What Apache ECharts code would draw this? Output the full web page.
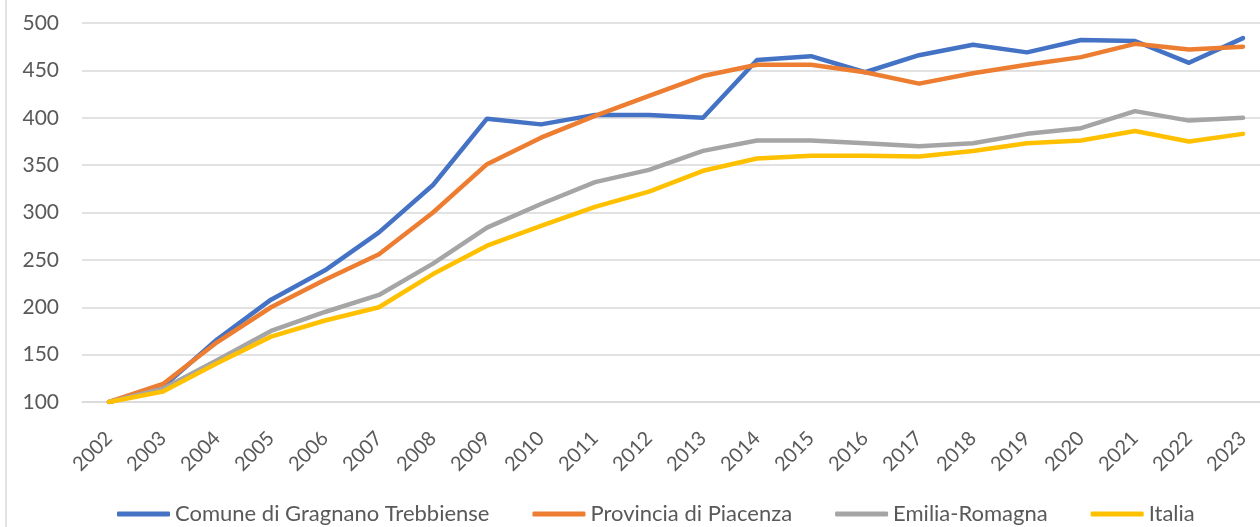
<!DOCTYPE html>
<html>
<head>
<meta charset="utf-8">
<script src="https://cdn.jsdelivr.net/npm/echarts@6/dist/echarts.min.js"></script>
<style>
  html, body { margin: 0; padding: 0; background: #fff; }
  #chart { width: 1260px; height: 527px; }
</style>
</head>
<body>
<div id="chart"></div>
<script>
const years = ["2002", "2003", "2004", "2005", "2006", "2007", "2008", "2009", "2010", "2011", "2012",
  "2013", "2014", "2015", "2016", "2017", "2018", "2019", "2020", "2021", "2022", "2023"];
const comune = [100, 116, 166, 208, 239, 279, 329, 399, 393, 403, 403, 400, 461, 465, 448, 466, 477, 469, 482, 481, 458, 484];
const provincia = [100, 119, 163, 200, 229, 256, 300, 351, 379, 402, 423, 444, 456, 456, 448, 436, 447, 456, 464, 478, 472, 475];
const emilia = [100, 114, 144, 175, 195, 213, 246, 284, 309, 332, 345, 365, 376, 376, 373, 370, 373, 383, 389, 407, 397, 400];
const italia = [100, 111, 141, 169, 186, 200, 235, 265, 286, 306, 322, 344, 357, 360, 360, 359, 365, 373, 376, 386, 375, 383];
const names = ["Comune di Gragnano Trebbiense", "Provincia di Piacenza", "Emilia-Romagna", "Italia"];
const colors = ["#4472C4", "#ED7D31", "#A5A5A5", "#FFC000"];

const font = "Lato, 'Noto Sans', sans-serif";
const chart = echarts.init(document.getElementById("chart"));

function line(name, data, color) {
  return {
    name: name,
    type: "line",
    data: data,
    symbol: "none",
    lineStyle: { color: color, width: 4.5, join: "round", cap: "round" },
    itemStyle: { color: color }
  };
}

chart.setOption({
  animation: false,
  backgroundColor: "#fff",
  grid: { left: 82, top: 23, width: 1188, height: 379, containLabel: false, outerBoundsMode: "none" },
  graphic: [
    {
      type: "line",
      shape: { x1: 6, y1: 0, x2: 6, y2: 527 },
      style: { stroke: "#D9D9D9", lineWidth: 1.5 }
    }
  ],
  legend: {
    left: 112,
    top: 498,
    icon: "roundRect",
    itemWidth: 53,
    itemHeight: 5,
    itemGap: 43,
    textStyle: { fontFamily: font, fontSize: 22, color: "#595959" },
    data: names
  },
  xAxis: {
    type: "category",
    data: years,
    boundaryGap: true,
    axisLine: { show: true, lineStyle: { color: "#D9D9D9", width: 1.5 } },
    axisTick: { show: false },
    axisLabel: { rotate: 45, margin: 33, fontFamily: font, fontSize: 20, color: "#595959" }
  },
  yAxis: {
    type: "value",
    min: 100,
    max: 500,
    interval: 50,
    axisLine: { show: false },
    axisTick: { show: false },
    axisLabel: { margin: 23, fontFamily: font, fontSize: 21, color: "#595959" },
    splitLine: { lineStyle: { color: "#D9D9D9", width: 1.5 } }
  },
  series: [
    line(names[0], comune, colors[0]),
    line(names[1], provincia, colors[1]),
    line(names[2], emilia, colors[2]),
    line(names[3], italia, colors[3])
  ]
});
</script>
</body>
</html>
